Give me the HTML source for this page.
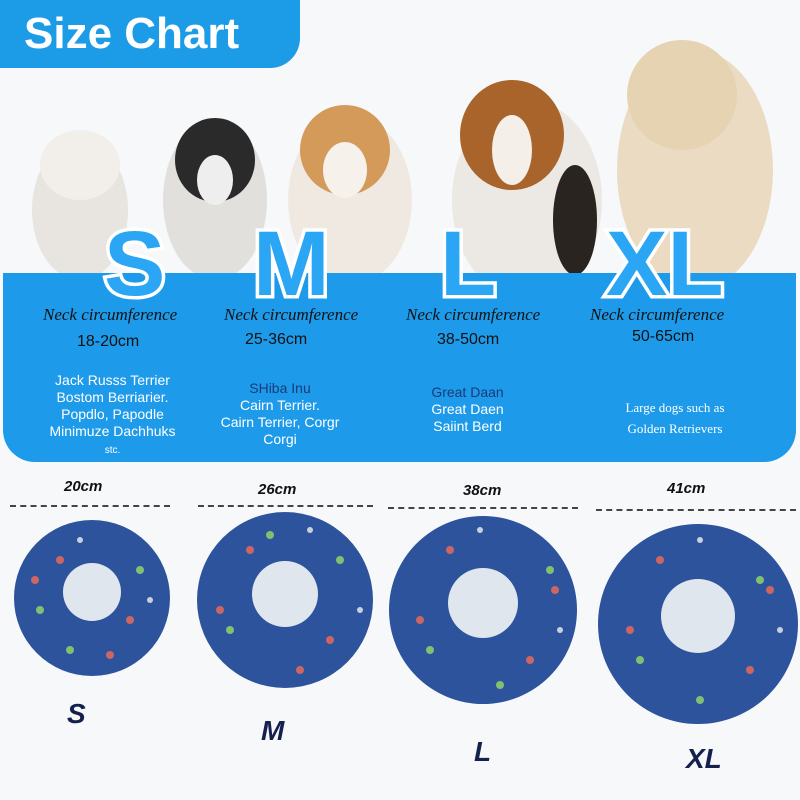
<!DOCTYPE html>
<html><head><meta charset="utf-8"><style>
body{margin:0;width:800px;height:800px;overflow:hidden;background:#f7f8fa;font-family:"Liberation Sans",sans-serif;position:relative}
.a{position:absolute}
.tab{left:0;top:0;width:300px;height:68px;background:#1c9be6;border-radius:0 0 30px 0;color:#fff;font-weight:bold;font-size:44px;line-height:68px;padding-left:24px;box-sizing:border-box}
.band{left:3px;top:273px;width:793px;height:189px;background:#1d9bea;border-radius:0 0 32px 32px}
.big{font-weight:900;font-size:92px;color:#2aa6f4;-webkit-text-stroke:7px #fff;paint-order:stroke fill;line-height:1;font-family:"Liberation Sans",sans-serif}
.nc{font-family:"Liberation Serif",serif;font-style:italic;font-size:17px;color:#111}
.cm{font-size:16px;color:#111}
.br{color:#fff;font-size:14px;text-align:center;line-height:17px}
.dim{font-weight:bold;font-style:italic;font-size:15px;color:#111}
.sz{font-weight:900;font-style:italic;font-size:28px;color:#14214d}
.dash{border-top:2px dashed #444;height:0}
</style></head><body>
<svg class="a" style="left:0;top:0" width="800" height="280">
<ellipse cx="80" cy="210" rx="48" ry="70" fill="#e8e4df"/><ellipse cx="80" cy="165" rx="40" ry="35" fill="#f2efea"/>
<ellipse cx="215" cy="200" rx="52" ry="80" fill="#e2e0dc"/><ellipse cx="215" cy="160" rx="40" ry="42" fill="#2a2a2a"/><ellipse cx="215" cy="180" rx="18" ry="25" fill="#eee"/>
<ellipse cx="350" cy="200" rx="62" ry="85" fill="#efe9e2"/><ellipse cx="345" cy="150" rx="45" ry="45" fill="#d49a5a"/><ellipse cx="345" cy="170" rx="22" ry="28" fill="#f6f1ea"/>
<ellipse cx="527" cy="200" rx="75" ry="100" fill="#ece8e3"/><ellipse cx="512" cy="135" rx="52" ry="55" fill="#a8642a"/><ellipse cx="512" cy="150" rx="20" ry="35" fill="#f4efe8"/><ellipse cx="575" cy="220" rx="22" ry="55" fill="#2a2420"/>
<ellipse cx="695" cy="170" rx="78" ry="120" fill="#eadbc2"/><ellipse cx="682" cy="95" rx="55" ry="55" fill="#e6d3b2"/>
</svg>
<div class="a tab">Size Chart</div>
<div class="a band"></div>
<div class="a big" style="left:104px;top:218px">S</div>
<div class="a big" style="left:253px;top:218px">M</div>
<div class="a big" style="left:440px;top:218px">L</div>
<div class="a big" style="left:606px;top:218px">XL</div>
<div class="a nc" style="left:43px;top:305px">Neck circumference</div>
<div class="a nc" style="left:224px;top:305px">Neck circumference</div>
<div class="a nc" style="left:406px;top:305px">Neck circumference</div>
<div class="a nc" style="left:590px;top:305px">Neck circumference</div>
<div class="a cm" style="left:77px;top:333px">18-20cm</div>
<div class="a cm" style="left:245px;top:331px">25-36cm</div>
<div class="a cm" style="left:437px;top:331px">38-50cm</div>
<div class="a cm" style="left:632px;top:328px">50-65cm</div>
<div class="a br" style="left:30px;top:372px;width:165px">Jack Russs Terrier<br>Bostom Berriarier.<br>Popdlo, Papodle<br>Minimuze Dachhuks<br><span style="font-size:10px">stc.</span></div>
<div class="a br" style="left:205px;top:380px;width:150px"><span style="color:#1a3a7a">SHiba Inu</span><br>Cairn Terrier.<br>Cairn Terrier, Corgr<br>Corgi</div>
<div class="a br" style="left:405px;top:384px;width:125px"><span style="color:#1a3a7a">Great Daan</span><br>Great Daen<br>Saiint Berd</div>
<div class="a br" style="left:600px;top:397px;width:150px;font-family:'Liberation Serif',serif;font-size:13px;line-height:21px">Large dogs such as<br>Golden Retrievers</div>
<div class="a dash" style="left:10px;top:505px;width:160px"></div>
<div class="a dash" style="left:198px;top:505px;width:175px"></div>
<div class="a dash" style="left:388px;top:507px;width:190px"></div>
<div class="a dash" style="left:596px;top:509px;width:200px"></div>
<div class="a dim" style="left:64px;top:478px">20cm</div>
<div class="a dim" style="left:258px;top:481px">26cm</div>
<div class="a dim" style="left:463px;top:482px">38cm</div>
<div class="a dim" style="left:667px;top:480px">41cm</div>
<svg class="a" style="left:0;top:500px" width="800" height="240">
<g fill="#2c539c"><circle cx="92" cy="98" r="78"/><circle cx="285" cy="100" r="88"/><circle cx="483" cy="110" r="94"/><circle cx="698" cy="124" r="100"/></g>
<g fill="#dfe6ee"><circle cx="92" cy="92" r="29"/><circle cx="285" cy="94" r="33"/><circle cx="483" cy="103" r="35"/><circle cx="698" cy="116" r="37"/></g>
<g fill="#e86a5a" opacity=".85"><circle cx="60" cy="60" r="4"/><circle cx="130" cy="120" r="4"/><circle cx="35" cy="80" r="4"/><circle cx="110" cy="155" r="4"/><circle cx="250" cy="50" r="4"/><circle cx="330" cy="140" r="4"/><circle cx="220" cy="110" r="4"/><circle cx="300" cy="170" r="4"/><circle cx="450" cy="50" r="4"/><circle cx="530" cy="160" r="4"/><circle cx="420" cy="120" r="4"/><circle cx="555" cy="90" r="4"/><circle cx="660" cy="60" r="4"/><circle cx="750" cy="170" r="4"/><circle cx="630" cy="130" r="4"/><circle cx="770" cy="90" r="4"/></g>
<g fill="#8fd46a" opacity=".85"><circle cx="40" cy="110" r="4"/><circle cx="140" cy="70" r="4"/><circle cx="70" cy="150" r="4"/><circle cx="230" cy="130" r="4"/><circle cx="340" cy="60" r="4"/><circle cx="270" cy="35" r="4"/><circle cx="430" cy="150" r="4"/><circle cx="550" cy="70" r="4"/><circle cx="500" cy="185" r="4"/><circle cx="640" cy="160" r="4"/><circle cx="760" cy="80" r="4"/><circle cx="700" cy="200" r="4"/></g>
<g fill="#f0f0f0" opacity=".8"><circle cx="80" cy="40" r="3"/><circle cx="150" cy="100" r="3"/><circle cx="310" cy="30" r="3"/><circle cx="360" cy="110" r="3"/><circle cx="480" cy="30" r="3"/><circle cx="560" cy="130" r="3"/><circle cx="700" cy="40" r="3"/><circle cx="780" cy="130" r="3"/></g>
</svg>
<div class="a sz" style="left:67px;top:698px">S</div>
<div class="a sz" style="left:261px;top:715px">M</div>
<div class="a sz" style="left:474px;top:736px">L</div>
<div class="a sz" style="left:686px;top:743px">XL</div>
</body></html>
